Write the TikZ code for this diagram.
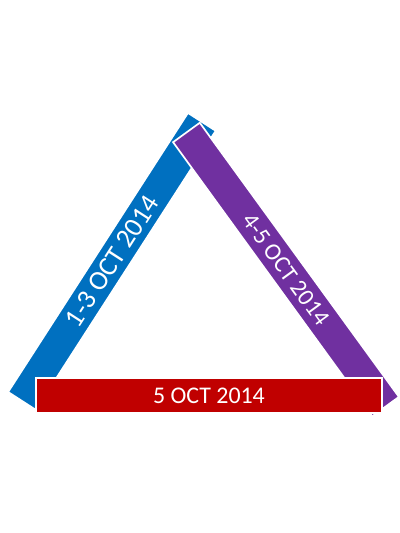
\documentclass[tikz,border=0pt]{standalone}
\usepackage{fontspec}
\setmainfont{Carlito}
\definecolor{barblue}{HTML}{0070C0}
\definecolor{barpurple}{HTML}{7030A0}
\definecolor{barred}{HTML}{C00000}
\tikzset{
  bar/.style={draw=white, line width=1.2pt, text=white, inner sep=0pt,
    minimum height=0.825cm, font=\fontsize{17}{20}\selectfont}
}
\begin{document}
\begin{tikzpicture}
  \useasboundingbox (0,0) rectangle (10,-13.325);
  % left side, under the others
  \node[bar, fill=barblue, minimum width=8.3cm, rotate=57.2,
    font=\fontsize{19.5}{22}\selectfont] (oneThree) at (2.798,-6.535) {1-3 OCT 2014};
  % right side
  \node[bar, fill=barpurple, minimum width=8.47cm, rotate=-54] (fourFive) at (7.15,-6.738) {4-5 OCT 2014};
  % base, on top
  \node[bar, fill=barred, minimum width=8.65cm, minimum height=0.875cm] (five) at (5.225,-9.888) {5 OCT 2014};
\end{tikzpicture}
\end{document}
